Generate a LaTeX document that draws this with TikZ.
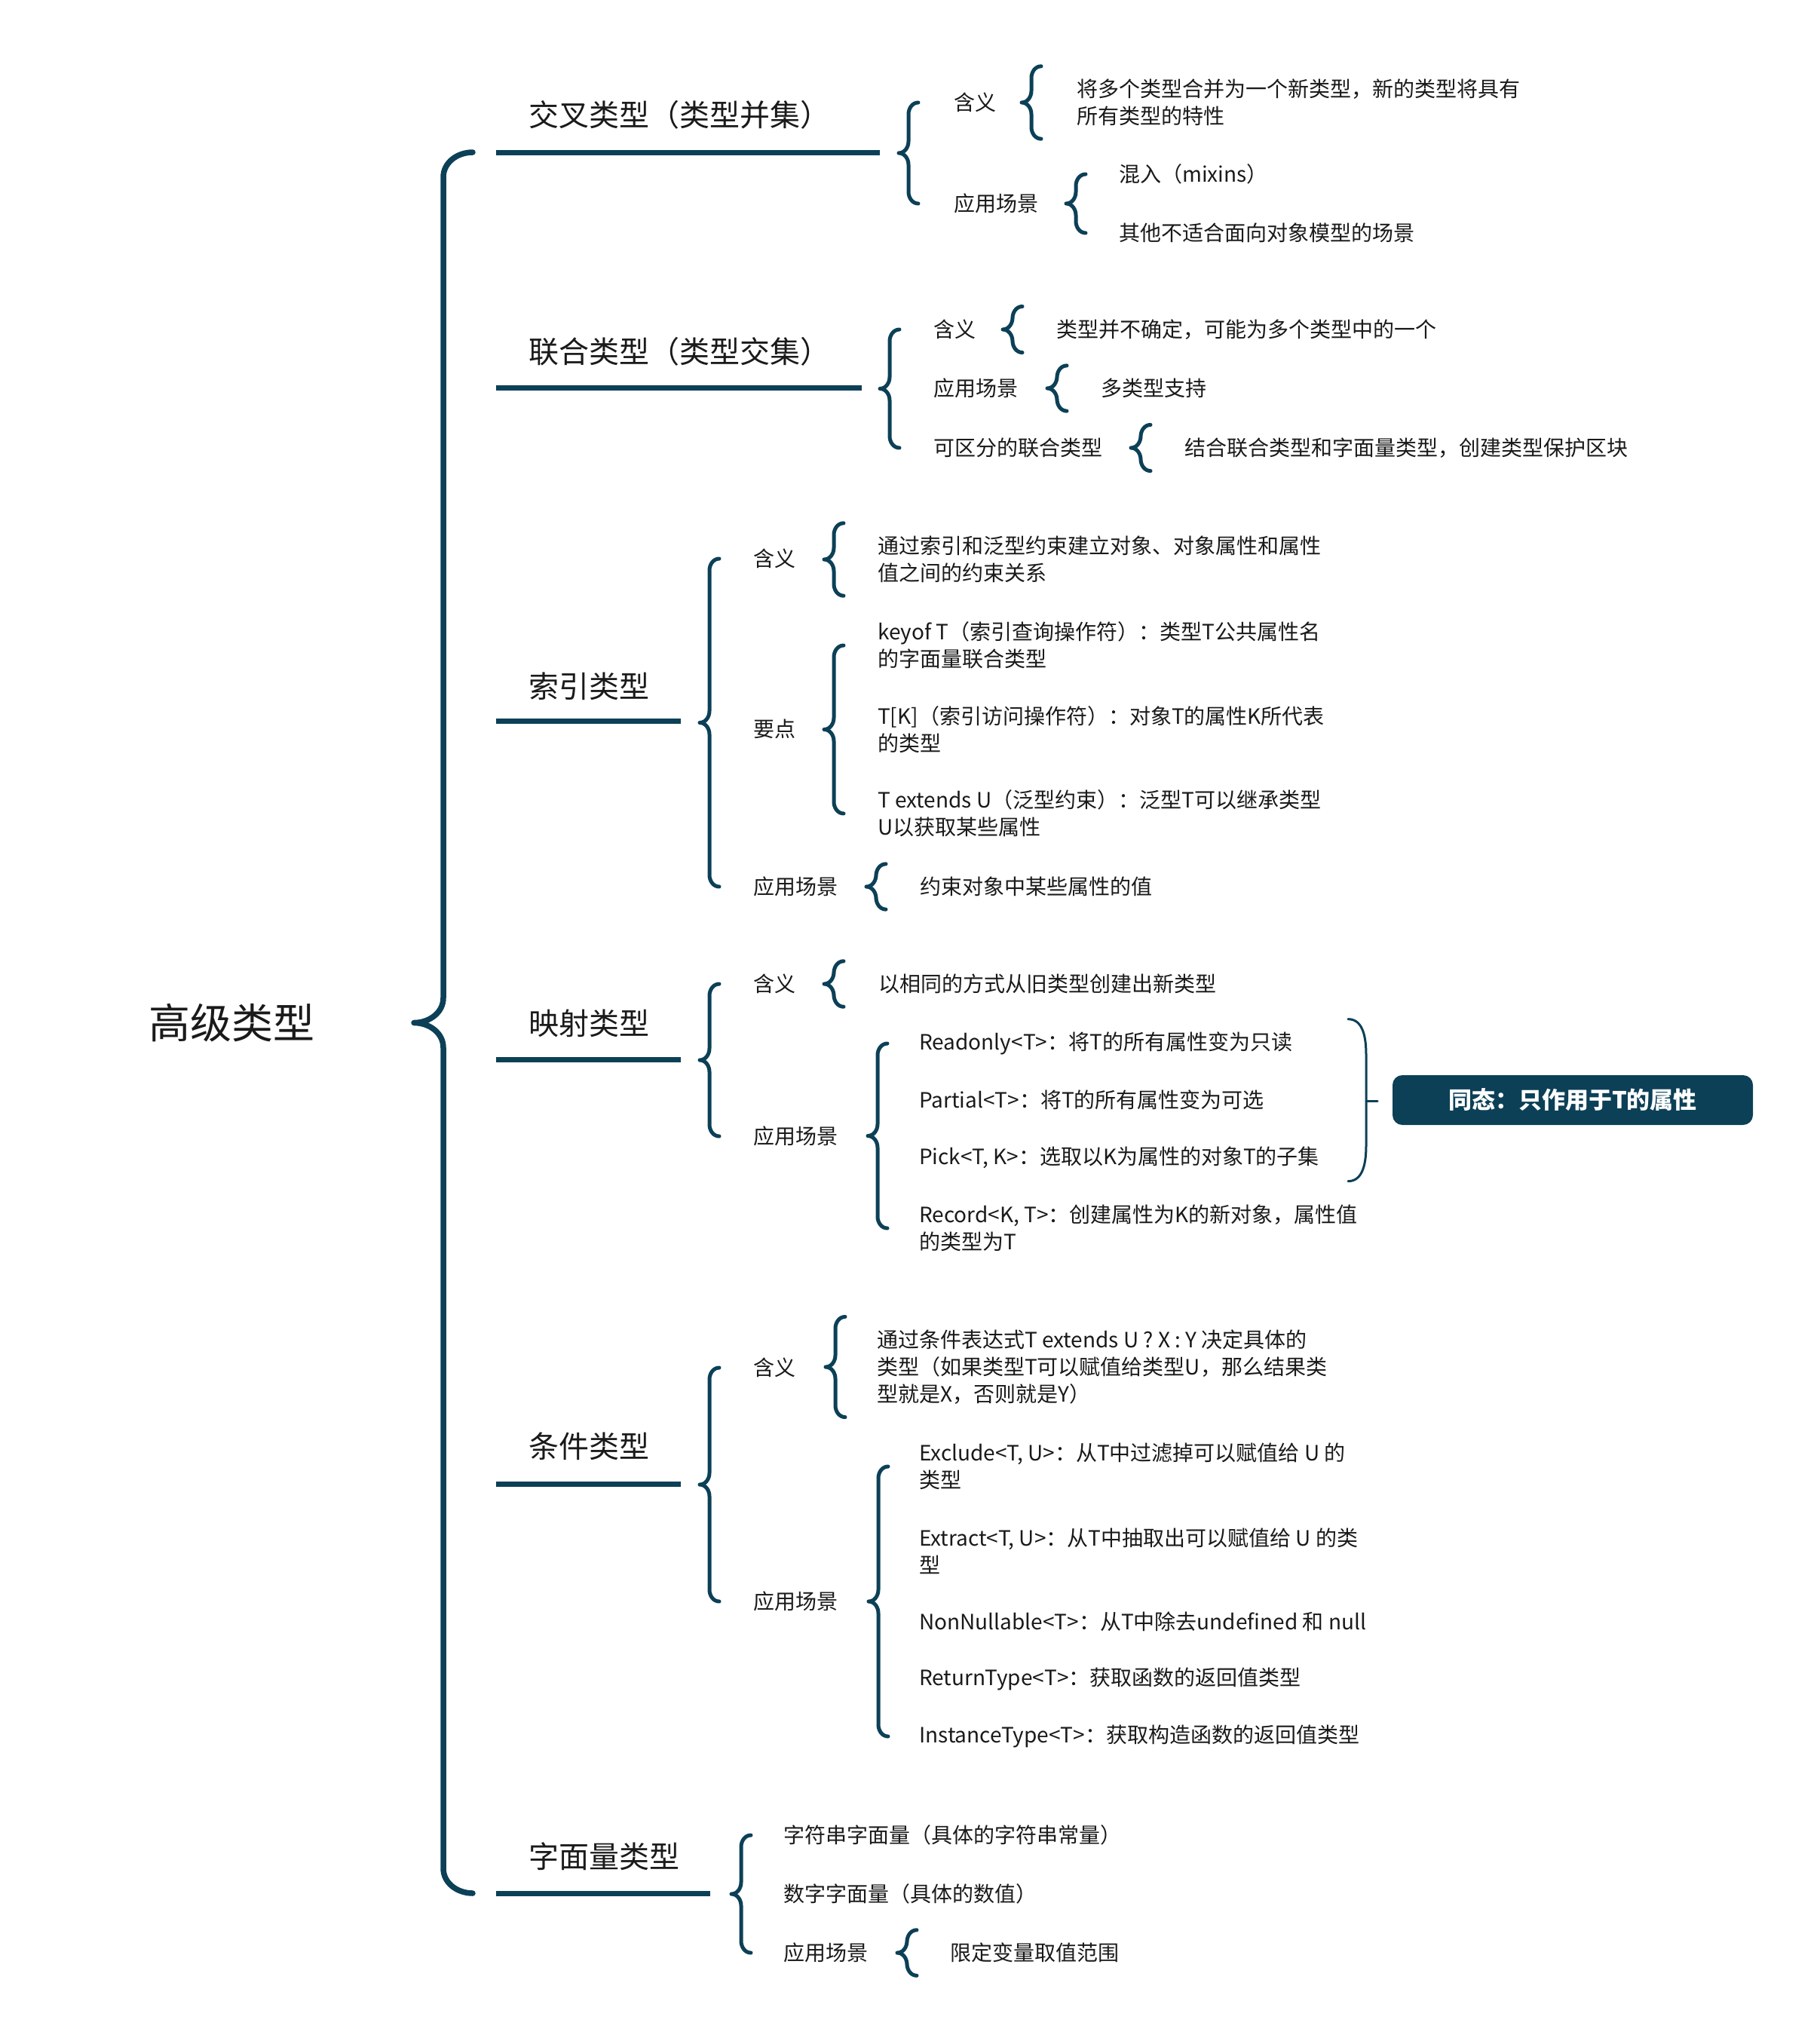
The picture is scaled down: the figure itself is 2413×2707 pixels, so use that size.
\documentclass[tikz,border=0pt]{standalone}
\usepackage{fontspec}
\setmainfont{Noto Sans CJK SC}
\usetikzlibrary{calc}
\definecolor{tealdk}{HTML}{0C4057}
\definecolor{ink}{HTML}{1A1A1A}
\newcommand\bro{1.2}
% #1 hook width, #2 extra style, #3 tip x, #4 top coordinate, #5 bottom coordinate
\newcommand\mybrace[5][13]{%
  \draw[brc,#2] let \p1=(#4), \p2=(#5), \p3=($(#4)!0.5!(#5)$) in
    (#3pt+2*#1pt,\y1) to[out=180,in=90] (#3pt+#1pt,\y1-\bro*#1pt)
    -- (#3pt+#1pt,\y3+\bro*#1pt) to[out=-90,in=0] (#3pt,\y3)
    to[out=0,in=90] (#3pt+#1pt,\y3-\bro*#1pt)
    -- (#3pt+#1pt,\y2+\bro*#1pt) to[out=-90,in=180] (#3pt+2*#1pt,\y2);}
\begin{document}
\begin{tikzpicture}[x=1pt,y=-1pt,
  txt/.style={anchor=west,inner xsep=0pt,inner ysep=17pt,align=left,text=ink,
    font=\fontsize{28pt}{36pt}\selectfont},
  lone/.style={anchor=west,inner xsep=0pt,inner ysep=4pt,text=ink,
    font=\fontsize{40pt}{46pt}\selectfont},
  uline/.style={draw=tealdk,line width=7pt},
  brc/.style={draw=tealdk,line width=5pt,line cap=round,line join=round},
  mainbrc/.style={line width=7.5pt},
  sumbr/.style={draw=tealdk,line width=3pt,line cap=round},
  box/.style={fill=tealdk,text=white,rounded corners=13pt,minimum width=478pt,
    minimum height=66pt,inner sep=0pt,font=\bfseries\fontsize{31pt}{36pt}\selectfont}]
\fill[white] (0,0) rectangle (2413,2707);
\useasboundingbox (0,0) rectangle (2413,2707);

% root
\node[anchor=west,inner sep=0pt,text=ink,font=\fontsize{55pt}{60pt}\selectfont] (root) at (197,1357) {高级类型};

% ---------- 1 交叉类型
\coordinate (u1s) at (658,202); \coordinate (u1e) at (1167,202);
\draw[uline] (u1s) -- (u1e);
\node[lone] (k1) at (701,152) {交叉类型（类型并集）};
\node[txt] (k1a) at (1265,136) {含义};
\node[txt] (k1b) at (1265,270) {应用场景};
\node[txt] (k1a1) at (1428,136) {将多个类型合并为一个新类型，新的类型将具有\\所有类型的特性};
\node[txt] (k1b1) at (1484,231) {混入（mixins）};
\node[txt] (k1b2) at (1484,309) {其他不适合面向对象模型的场景};
\mybrace{}{1192}{k1a.center}{k1b.center}
\mybrace{}{1355}{k1a1.north}{k1a1.south}
\mybrace{}{1414}{k1b1.center}{k1b2.center}

% ---------- 2 联合类型
\coordinate (u2s) at (658,514); \coordinate (u2e) at (1143,514);
\draw[uline] (u2s) -- (u2e);
\node[lone] (k2) at (701,466) {联合类型（类型交集）};
\node[txt] (k2a) at (1238,437) {含义};
\node[txt] (k2b) at (1238,515) {应用场景};
\node[txt] (k2c) at (1238,594) {可区分的联合类型};
\node[txt] (k2a1) at (1401,437) {类型并不确定，可能为多个类型中的一个};
\node[txt] (k2b1) at (1460,515) {多类型支持};
\node[txt] (k2c1) at (1571,594) {结合联合类型和字面量类型，创建类型保护区块};
\mybrace{}{1167}{k2a.center}{k2c.center}
\mybrace{}{1330}{k2a1.north}{k2a1.south}
\mybrace{}{1389}{k2b1.north}{k2b1.south}
\mybrace{}{1500}{k2c1.north}{k2c1.south}

% ---------- 3 索引类型
\coordinate (u3s) at (658,956); \coordinate (u3e) at (903,956);
\draw[uline] (u3s) -- (u3e);
\node[lone] (k3) at (701,910) {索引类型};
\node[txt] (k3a) at (999,741) {含义};
\node[txt] (k3b) at (999,967) {要点};
\node[txt] (k3c) at (999,1176) {应用场景};
\node[txt] (k3a1) at (1164,742) {通过索引和泛型约束建立对象、对象属性和属性\\值之间的约束关系};
\node[txt] (k3b1) at (1164,856) {keyof T（索引查询操作符）：类型T公共属性名\\的字面量联合类型};
\node[txt] (k3b2) at (1164,968) {T[K]（索引访问操作符）：对象T的属性K所代表\\的类型};
\node[txt] (k3b3) at (1164,1079) {T extends U（泛型约束）：泛型T可以继承类型\\U以获取某些属性};
\node[txt] (k3c1) at (1220,1176) {约束对象中某些属性的值};
\mybrace{}{928}{k3a.center}{k3c.center}
\mybrace{}{1093}{k3a1.north}{k3a1.south}
\mybrace{}{1093}{k3b1.center}{k3b3.center}
\mybrace{}{1149}{k3c1.north}{k3c1.south}

% ---------- 4 映射类型
\coordinate (u4s) at (658,1405); \coordinate (u4e) at (903,1405);
\draw[uline] (u4s) -- (u4e);
\node[lone] (k4) at (701,1357) {映射类型};
\node[txt] (k4a) at (999,1305) {含义};
\node[txt] (k4b) at (999,1507) {应用场景};
\node[txt] (k4a1) at (1165,1305) {以相同的方式从旧类型创建出新类型};
\node[txt] (k4b1) at (1219,1384) {Readonly<T>：将T的所有属性变为只读};
\node[txt] (k4b2) at (1219,1459) {Partial<T>：将T的所有属性变为可选};
\node[txt] (k4b3) at (1219,1535) {Pick<T, K>：选取以K为属性的对象T的子集};
\node[txt] (k4b4) at (1219,1629) {Record<K, T>：创建属性为K的新对象，属性值\\的类型为T};
\mybrace{}{928}{k4a.center}{k4b.center}
\mybrace{}{1093}{k4a1.north}{k4a1.south}
\mybrace{}{1151}{k4b1.center}{k4b4.center}
% summary bracket
\draw[sumbr] let \p1=(k4b1.north), \p2=(k4b3.south) in
  (1788pt,\y1) to[out=0,in=90] (1812pt,\y1-48pt) -- (1812pt,\y2+48pt)
  to[out=-90,in=0] (1788pt,\y2);
\coordinate (stip) at (1812,1460);
\coordinate (stend) at (1827,1460);
\draw[sumbr] (stip) -- (stend);
\node[box] (sum) at (2086,1459) {同态：只作用于T的属性};

% ---------- 5 条件类型
\coordinate (u5s) at (658,1968); \coordinate (u5e) at (903,1968);
\draw[uline] (u5s) -- (u5e);
\node[lone] (k5) at (701,1918) {条件类型};
\node[txt] (k5a) at (999,1814) {含义};
\node[txt] (k5b) at (999,2124) {应用场景};
\node[txt] (k5a1) at (1163,1813) {通过条件表达式T extends U ? X : Y 决定具体的\\类型（如果类型T可以赋值给类型U，那么结果类\\型就是X，否则就是Y）};
\node[txt] (k5b1) at (1219,1945) {Exclude<T, U>：从T中过滤掉可以赋值给 U 的\\类型};
\node[txt] (k5b2) at (1219,2057) {Extract<T, U>：从T中抽取出可以赋值给 U 的类\\型};
\node[txt] (k5b3) at (1219,2151) {NonNullable<T>：从T中除去undefined 和 null};
\node[txt] (k5b4) at (1219,2227) {ReturnType<T>：获取函数的返回值类型};
\node[txt] (k5b5) at (1219,2303) {InstanceType<T>：获取构造函数的返回值类型};
\mybrace{}{928}{k5a.center}{k5b.center}
\mybrace{}{1095}{k5a1.north}{k5a1.south}
\mybrace{}{1152}{k5b1.center}{k5b5.center}

% ---------- 6 字面量类型
\coordinate (u6s) at (658,2511); \coordinate (u6e) at (942,2511);
\draw[uline] (u6s) -- (u6e);
\node[lone] (k6) at (701,2462) {字面量类型};
\node[txt] (k6a) at (1039,2434) {字符串字面量（具体的字符串常量）};
\node[txt] (k6b) at (1039,2512) {数字字面量（具体的数值）};
\node[txt] (k6c) at (1039,2590) {应用场景};
\node[txt] (k6c1) at (1260,2590) {限定变量取值范围};
\mybrace{}{970}{k6a.center}{k6c.center}
\mybrace{}{1190}{k6c1.north}{k6c1.south}

% ---------- main brace
\renewcommand\bro{0.85}
\mybrace[39]{mainbrc}{549}{u1s}{u6s}
\end{tikzpicture}
\end{document}
